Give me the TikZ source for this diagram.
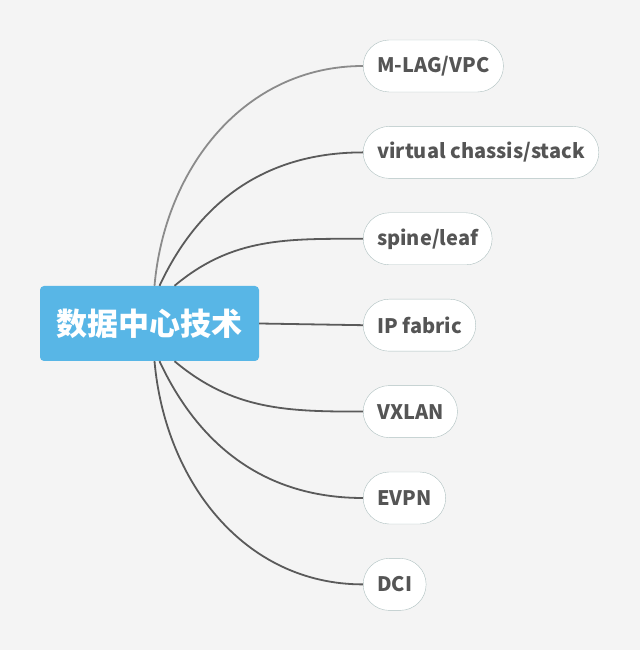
\documentclass[tikz,border=0pt]{standalone}
\usepackage{fontspec}
\setmainfont{Noto Sans CJK SC}
\usepackage{xcolor}
\usetikzlibrary{positioning}

\definecolor{bgcol}{HTML}{F4F4F4}
\definecolor{corecol}{HTML}{58B6E6}
\definecolor{leafline}{HTML}{AEC0C0}
\definecolor{leaftext}{HTML}{555555}
\definecolor{linkcol}{HTML}{5A5A5A}

\begin{document}
\begin{tikzpicture}[
    x=1pt,y=1pt,
    node distance=34pt,
    core/.style={fill=corecol,rounded corners=4pt,minimum width=219pt,
        minimum height=75pt,text=white,font=\fontsize{31}{34}\selectfont\bfseries},
    leaf/.style={draw=leafline,fill=white!98!bgcol,rounded corners=26pt,
        minimum height=52pt,inner xsep=14pt,text=leaftext,
        font=\fontsize{20}{24}\selectfont\bfseries},
    link/.style={line width=1.8pt,draw=linkcol}
]
% background and page size
\fill[bgcol] (0,0) rectangle (640,650);
\useasboundingbox (0,0) rectangle (640,650);

\node[core] (core) at (149.5,326.5) {数据中心技术};

\node[leaf,anchor=west] (mlag) at (363,584) {M-LAG/VPC};
\node[leaf,below=of mlag.south west,anchor=north west] (vc) {virtual chassis/stack};
\node[leaf,below=of vc.south west,anchor=north west] (spine) {spine/leaf};
\node[leaf,below=of spine.south west,anchor=north west] (ipf) {IP fabric};
\node[leaf,below=of ipf.south west,anchor=north west] (vxlan) {VXLAN};
\node[leaf,below=of vxlan.south west,anchor=north west] (evpn) {EVPN};
\node[leaf,below=of evpn.south west,anchor=north west] (dci) {DCI};

% branches
\draw[link,draw=linkcol!70] ([xshift=5pt]core.north) to[out=85,in=180] (mlag.west);
\draw[link] ([xshift=10pt]core.north) to[out=65,in=180] (vc.west);
\draw[link] ([xshift=25pt]core.north) to[out=40,in=180] (spine.west);
\draw[link] (core.east) -- (ipf.west);
\draw[link] ([xshift=25pt]core.south) to[out=-40,in=180] (vxlan.west);
\draw[link] ([xshift=10pt]core.south) to[out=-65,in=180] (evpn.west);
\draw[link] ([xshift=5pt]core.south) to[out=-85,in=180] (dci.west);
\end{tikzpicture}
\end{document}
